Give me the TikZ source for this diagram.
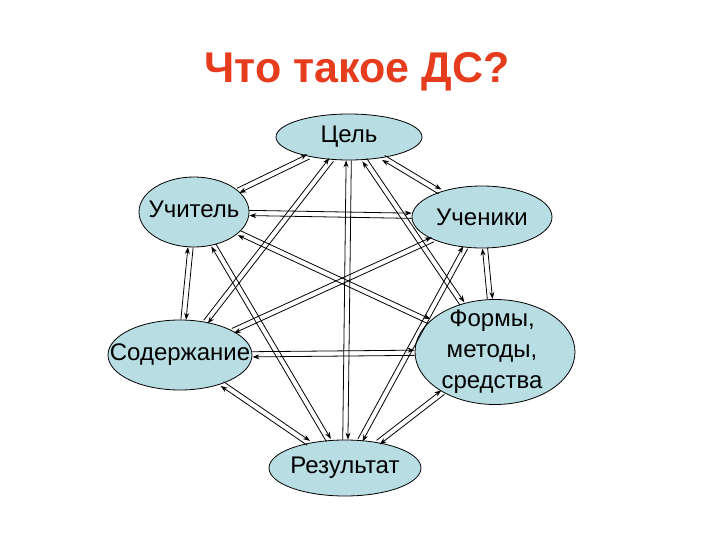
\documentclass[tikz,border=0pt]{standalone}
\usepackage{fontspec}
\setmainfont{Liberation Sans}
\usetikzlibrary{shapes.geometric,arrows.meta}
\definecolor{nodefill}{RGB}{184,222,228}
\definecolor{titlered}{RGB}{230,60,30}
\tikzset{
 el/.style={ellipse,draw=black,fill=nodefill,inner sep=0pt,line width=0.8pt},
 lbl/.style={font=\fontsize{24}{28}\selectfont,align=center},
 arr/.style={-{Stealth[length=7pt,width=5pt]},line width=0.8pt}
}
\newcommand\pairarrows[2]{%
 \pgfpointdiff{\pgfpointanchor{#1}{center}}{\pgfpointanchor{#2}{center}}%
 \pgfgetlastxy\dxx\dyy
 \pgfmathsetmacro\lenn{veclen(\dxx,\dyy)}%
 \pgfmathsetmacro\ox{-2.6*\dyy/\lenn}\pgfmathsetmacro\oy{2.6*\dxx/\lenn}%
 \pgfmathsetmacro\mx{-\ox}\pgfmathsetmacro\my{-\oy}%
 \draw[arr,transform canvas={shift={(\ox pt,\oy pt)}}] (#1) -- (#2);
 \draw[arr,transform canvas={shift={(\mx pt,\my pt)}}] (#2) -- (#1);}
\begin{document}
\begin{tikzpicture}[x=1pt,y=-1pt]
\useasboundingbox (0,0) rectangle (720,540);
\node[font=\fontsize{43}{48}\selectfont\bfseries,text=titlered] (title) at (357,72) {Что такое ДС?};
\node[el,minimum width=146pt,minimum height=46pt,label={[lbl]center:Цель}] (c) at (349,137) {};
\node[el,minimum width=110pt,minimum height=70pt,label={[lbl,yshift=3pt]center:Учитель}] (t) at (194,212) {};
\node[el,minimum width=140pt,minimum height=62pt,label={[lbl]center:Ученики}] (s) at (482,217) {};
\node[el,minimum width=144pt,minimum height=70pt,label={[lbl]center:Содержание}] (k) at (180,355) {};
\node[el,minimum width=160pt,minimum height=105pt,label={[lbl,xshift=-3pt,align=center,font=\fontsize{24}{31}\selectfont]center:Формы,\\методы,\\средства}] (f) at (495,352) {};
\node[el,minimum width=152pt,minimum height=56pt,label={[lbl]center:Результат}] (r) at (345,468) {};
\pairarrows{c}{t}\pairarrows{c}{s}\pairarrows{c}{k}\pairarrows{c}{f}\pairarrows{c}{r}
\pairarrows{t}{s}\pairarrows{t}{k}\pairarrows{t}{f}\pairarrows{t}{r}
\pairarrows{s}{k}\pairarrows{s}{f}\pairarrows{s}{r}
\pairarrows{k}{f}\pairarrows{k}{r}\pairarrows{f}{r}
\end{tikzpicture}
\end{document}
